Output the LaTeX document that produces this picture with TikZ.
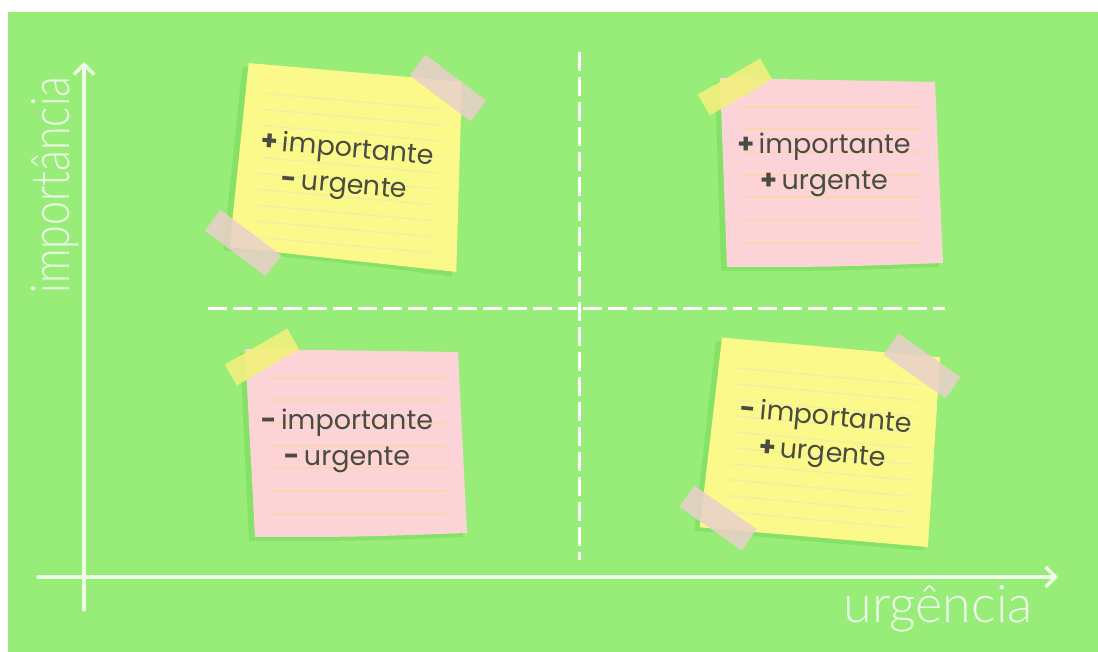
\documentclass[tikz,border=0pt]{standalone}
\usepackage{fontspec}
\usepackage{graphicx}
\usetikzlibrary{arrows.meta}
\newfontfamily\notefont{Poppins}
\newfontfamily\axisfont{Lato Light}
\definecolor{bg}{HTML}{97ED77}
\definecolor{shade}{HTML}{72D455}
\definecolor{yel}{HTML}{FBF98A}
\definecolor{yelline}{HTML}{F1EDA6}
\definecolor{pnk}{HTML}{FCD4D8}
\definecolor{pnkline}{HTML}{F8D6B2}
\definecolor{ink}{HTML}{4B4B40}
\definecolor{tapep}{HTML}{EACFCB}
\definecolor{tapey}{HTML}{F3F07E}
\definecolor{axiswhite}{HTML}{EEFAE8}
\begin{document}
\begin{tikzpicture}[x=1pt,y=1pt,
  axisline/.style={axiswhite, line width=3.5pt, line cap=round, -{Straight Barb[length=10pt,width=20pt]}},
  dashline/.style={white, line width=3pt, dash pattern=on 19pt off 6pt},
  notetxt/.style={font=\notefont\fontsize{27}{36}\selectfont, text=ink, align=center, inner sep=0pt},
  axislbl/.style={font=\axisfont\fontsize{52}{52}\selectfont, text=axiswhite, inner sep=0pt},
  shadowfill/.style={fill=shade, opacity=0.45},
  yline/.style={yelline, line width=1.2pt},
  pline/.style={pnkline, line width=1.2pt},
  tapeP/.style={fill=tapep, opacity=0.85, minimum width=76pt, minimum height=26pt, inner sep=0pt},
  tapeY/.style={fill=tapey, opacity=0.9, minimum width=72pt, minimum height=24pt, inner sep=0pt}]
\useasboundingbox (0,0) rectangle (1098,652);
\fill[white] (0,0) rectangle (1098,652);
\fill[bg] (8,0) rectangle (1098,640);

% dashed quadrant lines
\coordinate (hl) at (208,343);
\coordinate (hr) at (945,343);
\coordinate (vt) at (579,600);
\coordinate (vb) at (579,92);
\draw[dashline] (hl) -- (hr);
\draw[dashline] (vt) -- (vb);

% note 1: yellow, top-left
\begin{scope}[shift={(347,485)}, rotate=-5]
  \fill[shadowfill] (-113,91) -- (103,91) -- (114,-100) .. controls (20,-96) .. (-116,-94) -- cycle;
  \fill[yel] (-107,95) -- (107,95) -- (118,-95) .. controls (20,-93) .. (-110,-90) -- cycle;
  \foreach \yy in {66,50,34,18,2,-14,-30,-46,-62,-78}
    \draw[yline] (-88,\yy) -- (92,\yy);
  \node[notetxt, rotate=-5] (t1) at (-1,-1.5) {\textbf{+}\,importante\\\textbf{-}\,urgente};
\end{scope}
\node[tapeP, rotate=-37] (tp1a) at (448,564) {};
\node[tapeP, rotate=-37] (tp1b) at (243,409) {};

% note 2: pink, top-right
\begin{scope}[shift={(831,480)}]
  \fill[shadowfill] (-116,90) -- (100,86) -- (108,-95) .. controls (0,-99) .. (-110,-99) -- cycle;
  \fill[pnk] (-111,94) -- (104,90) -- (112,-91) .. controls (0,-95) .. (-104,-95) -- cycle;
  \foreach \yy in {65,43,20,-3,-25,-48,-71}
    \draw[pline] (-88,\yy) -- (89,\yy);
  \node[notetxt] (t2) at (-7,7) {\textbf{+}\,importante\\\textbf{+}\,urgente};
\end{scope}
\node[tapeY, rotate=30] (tp2) at (735,565) {};

% note 3: pink, bottom-left
\begin{scope}[shift={(356,209)}]
  \fill[shadowfill] (-116,90) -- (98,87) -- (107,-94) .. controls (0,-98) .. (-107,-98) -- cycle;
  \fill[pnk] (-111,94) -- (102,91) -- (111,-90) .. controls (0,-94) .. (-101,-94) -- cycle;
  \foreach \yy in {65,43,20,-3,-25,-48,-71}
    \draw[pline] (-88,\yy) -- (90,\yy);
  \node[notetxt] (t3) at (-9,2.5) {\textbf{-}\,importante\\\textbf{-}\,urgente};
\end{scope}
\node[tapeY, rotate=30] (tp3) at (262,295) {};

% note 4: yellow, bottom-right
\begin{scope}[shift={(822,210)}, rotate=-5.2]
  \fill[shadowfill] (-115,91) -- (106,91) -- (111,-99) .. controls (0,-100) .. (-119,-100) -- cycle;
  \fill[yel] (-109,95) -- (110,95) -- (115,-95) .. controls (0,-96) .. (-114,-96) -- cycle;
  \foreach \yy in {66,50,34,18,2,-14,-30,-46,-62,-78}
    \draw[yline] (-90,\yy) -- (92,\yy);
  \node[notetxt, rotate=-5.2] (t4) at (1.5,5.7) {\textbf{-}\,importante\\\textbf{+}\,urgente};
\end{scope}
\node[tapeP, rotate=-35] (tp4a) at (922,286) {};
\node[tapeP, rotate=-35] (tp4b) at (718,134) {};

% axes
\coordinate (yb) at (84,42);
\coordinate (yt) at (84,590);
\coordinate (xl) at (38,75);
\coordinate (xr) at (1058,75);
\draw[axisline] (yb) -- (yt);
\draw[axisline] (xl) -- (xr);

% axis labels
\node[axislbl, anchor=base] (ux) at (938,29) {urgência};
\node[axislbl, font=\axisfont\fontsize{43}{43}\selectfont, rotate=90, anchor=base] (iy) at (69,467) {\scalebox{1}[1.25]{importância}};
\end{tikzpicture}
\end{document}
